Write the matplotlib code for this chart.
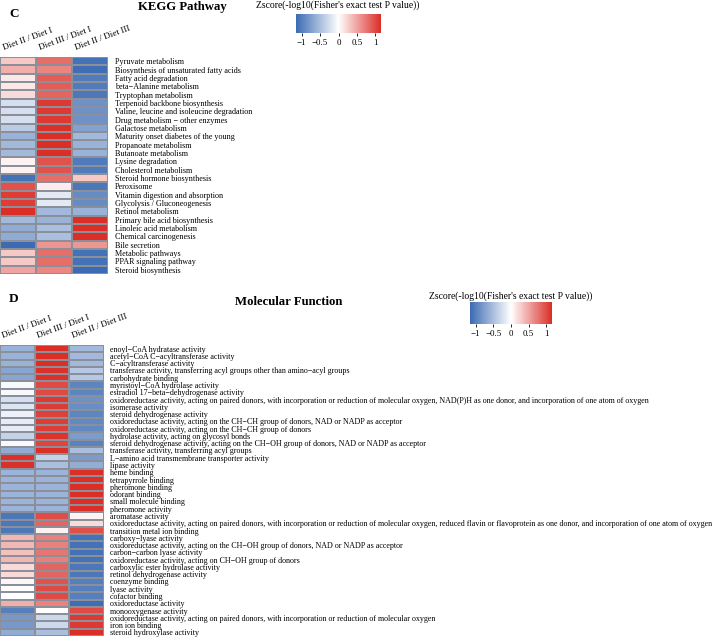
import numpy as np
import matplotlib
matplotlib.use("Agg")
import matplotlib.pyplot as plt
from matplotlib.colors import LinearSegmentedColormap, Normalize
from matplotlib.cm import ScalarMappable

plt.rcParams['font.family'] = ['Liberation Serif', 'DejaVu Serif']

# comparisons (columns)
comparisons = ["Diet II / Diet I", "Diet III / Diet I", "Diet II / Diet III"]

# KEGG pathway terms and row z-scores
kegg_terms = [
    "Pyruvate metabolism",
    "Biosynthesis of unsaturated fatty acids",
    "Fatty acid degradation",
    "beta\u2212Alanine metabolism",
    "Tryptophan metabolism",
    "Terpenoid backbone biosynthesis",
    "Valine, leucine and isoleucine degradation",
    "Drug metabolism \u2212 other enzymes",
    "Galactose metabolism",
    "Maturity onset diabetes of the young",
    "Propanoate metabolism",
    "Butanoate metabolism",
    "Lysine degradation",
    "Cholesterol metabolism",
    "Steroid hormone biosynthesis",
    "Peroxisome",
    "Vitamin digestion and absorption",
    "Glycolysis / Gluconeogenesis",
    "Retinol metabolism",
    "Primary bile acid biosynthesis",
    "Linoleic acid metabolism",
    "Chemical carcinogenesis",
    "Bile secretion",
    "Metabolic pathways",
    "PPAR signaling pathway",
    "Steroid biosynthesis",
]
kegg_d2_d1 = [0.30, 0.45, 0.12, 0.12, 0.20, -0.25, -0.25, -0.25, -0.40, -0.60, -0.55, -0.55, 0.08,
              0.08, -1.10, 0.95, 1.07, 1.07, 1.15, -0.55, -0.65, -0.65, -1.15, 0.30, 0.30, 0.50]
kegg_d3_d1 = [0.80, 0.67, 0.90, 0.90, 0.85, 1.10, 1.10, 1.10, 1.13, 1.15, 1.15, 1.15, 0.95,
              0.95, 0.80, 0.10, -0.17, -0.17, -0.55, -0.60, -0.50, -0.50, 0.58, 0.80, 0.80, 0.65]
kegg_d2_d3 = [-1.10, -1.12, -1.02, -1.02, -1.05, -0.85, -0.85, -0.85, -0.73, -0.55, -0.60, -0.60, -1.03,
              -1.03, 0.30, -1.05, -0.90, -0.90, -0.60, 1.15, 1.15, 1.15, 0.57, -1.10, -1.10, -1.15]

# Molecular function terms and row z-scores
mf_terms = [
    "enoyl\u2212CoA hydratase activity",
    "acetyl\u2212CoA C\u2212acyltransferase activity",
    "C\u2212acyltransferase activity",
    "transferase activity, transferring acyl groups other than amino\u2212acyl groups",
    "carbohydrate binding",
    "myristoyl\u2212CoA hydrolase activity",
    "estradiol 17\u2212beta\u2212dehydrogenase activity",
    "oxidoreductase activity, acting on paired donors, with incorporation or reduction of molecular oxygen, NAD(P)H as one donor, and incorporation of one atom of oxygen",
    "isomerase activity",
    "steroid dehydrogenase activity",
    "oxidoreductase activity, acting on the CH\u2212CH group of donors, NAD or NADP as acceptor",
    "oxidoreductase activity, acting on the CH\u2212CH group of donors",
    "hydrolase activity, acting on glycosyl bonds",
    "steroid dehydrogenase activity, acting on the CH\u2212OH group of donors, NAD or NADP as acceptor",
    "transferase activity, transferring acyl groups",
    "L\u2212amino acid transmembrane transporter activity",
    "lipase activity",
    "heme binding",
    "tetrapyrrole binding",
    "pheromone binding",
    "odorant binding",
    "small molecule binding",
    "pheromone activity",
    "aromatase activity",
    "oxidoreductase activity, acting on paired donors, with incorporation or reduction of molecular oxygen, reduced flavin or flavoprotein as one donor, and incorporation of one atom of oxygen",
    "transition metal ion binding",
    "carboxy\u2212lyase activity",
    "oxidoreductase activity, acting on the CH\u2212OH group of donors, NAD or NADP as acceptor",
    "carbon\u2212carbon lyase activity",
    "oxidoreductase activity, acting on CH\u2212OH group of donors",
    "carboxylic ester hydrolase activity",
    "retinol dehydrogenase activity",
    "coenzyme binding",
    "lyase activity",
    "cofactor binding",
    "oxidoreductase activity",
    "monooxygenase activity",
    "oxidoreductase activity, acting on paired donors, with incorporation or reduction of molecular oxygen",
    "iron ion binding",
    "steroid hydroxylase activity",
]
mf_d2_d1 = [-0.60, -0.60, -0.60, -0.70, -0.70, -0.05, -0.05, -0.25, -0.20, -0.10,
            -0.15, -0.15, -0.35, -0.05, -0.65, 1.13, 1.14, -0.58, -0.58, -0.58,
            -0.58, -0.58, -0.58, -1.05, -1.05, -1.05, 0.40, 0.40, 0.35, 0.40,
            0.20, 0.20, 0.05, 0.00, 0.00, 0.45, -1.00, -0.80, -0.80, -0.65]
mf_d3_d1 = [1.15, 1.15, 1.15, 1.13, 1.13, 1.00, 1.00, 1.10, 1.08, 1.05,
            1.07, 1.07, 1.12, 1.02, 1.15, -0.35, -0.50, -0.58, -0.58, -0.58,
            -0.58, -0.58, -0.58, 0.98, 0.85, 0.08, 0.70, 0.70, 0.75, 0.70,
            0.85, 0.85, 0.95, 1.00, 1.00, 0.68, 0.00, -0.30, -0.30, -0.50]
mf_d2_d3 = [-0.55, -0.55, -0.55, -0.43, -0.43, -0.95, -0.95, -0.85, -0.88, -0.95,
            -0.92, -0.92, -0.77, -0.97, -0.50, -0.78, -0.64, 1.155, 1.155, 1.155,
            1.155, 1.155, 1.155, 0.07, 0.20, 0.97, -1.10, -1.10, -1.10, -1.10,
            -1.05, -1.05, -1.00, -1.00, -1.00, -1.13, 1.00, 1.10, 1.10, 1.15]

W, H = 714, 637
VMAX = 1.155
cmap = LinearSegmentedColormap.from_list("bwr_z", ["#3b6bb3", "#ffffff", "#db2e27"])
norm = Normalize(vmin=-VMAX, vmax=VMAX)
cb_title = "Zscore(-log10(Fisher's exact test P value))"


def px(x0, y0, x1, y1):
    # pixel box (top-left origin) -> figure fraction rect
    return [x0 / W, 1 - y1 / H, (x1 - x0) / W, (y1 - y0) / H]


def draw_heatmap(fig, rect, terms, cols, label_pad, label_size):
    data = np.column_stack(cols)
    ax = fig.add_axes(rect)
    ax.pcolormesh(data, cmap=cmap, norm=norm, edgecolors="#8a8f99", linewidth=0.35)
    ax.set_xlim(0, data.shape[1])
    ax.set_ylim(data.shape[0], 0)
    ax.yaxis.tick_right()
    ax.set_yticks(np.arange(len(terms)) + 0.5)
    ax.set_yticklabels(terms, fontsize=label_size)
    ax.set_xticks([])
    ax.tick_params(axis="y", length=0, pad=label_pad)
    for s in ax.spines.values():
        s.set_visible(False)
    for j, name in enumerate(comparisons):
        ax.annotate(name, xy=(j + 0.1, 1), xycoords=("data", "axes fraction"),
                    xytext=(0, 7), textcoords="offset pixels",
                    rotation=20, ha="left", va="baseline",
                    rotation_mode="anchor", fontsize=6.6)
    return ax


def draw_colorbar(fig, rect, title_xy):
    cax = fig.add_axes(rect)
    cb = fig.colorbar(ScalarMappable(norm=norm, cmap=cmap), cax=cax,
                      orientation="horizontal", ticks=[-1, -0.5, 0, 0.5, 1])
    cb.outline.set_visible(False)
    cb.ax.set_xticklabels(["\u22121", "\u22120.5", "0", "0.5", "1"])
    cb.ax.tick_params(labelsize=6.4, length=2.5, width=0.6, pad=2)
    fig.text(title_xy[0] / W, 1 - title_xy[1] / H, cb_title, fontsize=6.9,
             ha="center", va="center")


fig = plt.figure(figsize=(W / 100, H / 100), dpi=100)

# panel C
draw_heatmap(fig, px(0, 57, 108, 274), kegg_terms,
             [kegg_d2_d1, kegg_d3_d1, kegg_d2_d3], 5, 5.9)
fig.text(14 / W, 1 - 14 / H, "C", fontsize=9.5, fontweight="bold", ha="center", va="center")
fig.text(182 / W, 1 - 7 / H, "KEGG Pathway", fontsize=9.2, fontweight="bold",
         ha="center", va="center")
draw_colorbar(fig, px(296, 14, 381, 33), (338, 5))

# panel D
draw_heatmap(fig, px(0, 345, 104, 636), mf_terms,
             [mf_d2_d1, mf_d3_d1, mf_d2_d3], 4.5, 5.8)
fig.text(14 / W, 1 - 299 / H, "D", fontsize=9.5, fontweight="bold", ha="center", va="center")
fig.text(289 / W, 1 - 302 / H, "Molecular Function", fontsize=9.2, fontweight="bold",
         ha="center", va="center")
draw_colorbar(fig, px(470, 302, 552, 324), (511, 296))

fig.savefig("out.png", dpi=100)
